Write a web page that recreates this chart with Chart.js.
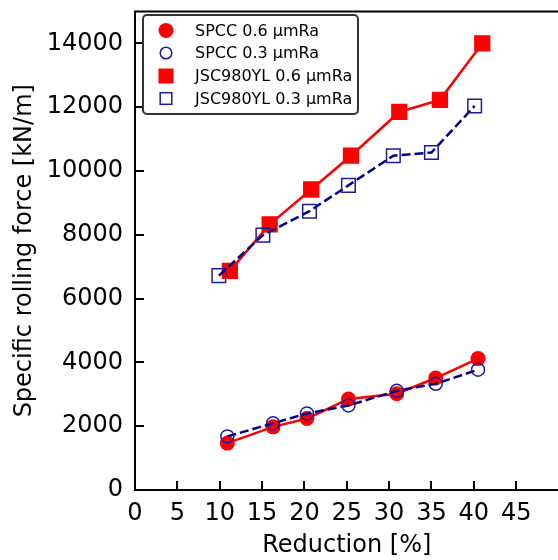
<!DOCTYPE html>
<html>
<head>
<meta charset="utf-8">
<script src="https://cdn.jsdelivr.net/npm/chart.js@4/dist/chart.umd.min.js"></script>
<style>
  html, body { margin: 0; padding: 0; background: #fff; overflow: hidden; }
  #wrap { width: 558px; height: 560px; overflow: hidden; }
</style>
</head>
<body>
<div id="wrap"><canvas id="rollChart" width="570" height="560"></canvas></div>
<script>
// Reduction [%] for each measured pass
const spccReduction = [10.9, 16.3, 20.3, 25.2, 30.9, 35.5, 40.5];
const jsc06Reduction = [11.2, 15.9, 20.8, 25.5, 31.2, 36.0, 41.0];
const jsc03Reduction = [9.9, 15.1, 20.6, 25.2, 30.5, 35.0, 40.1];

// Specific rolling force [kN/m]
const spcc06Force = [1470, 1980, 2240, 2850, 3020, 3510, 4120];
const spcc03Force = [1680, 2090, 2400, 2650, 3110, 3330, 3770];
const jsc06Force = [6870, 8330, 9420, 10480, 11850, 12230, 14000];
const jsc03Force = [6720, 7990, 8740, 9550, 10480, 10580, 12040];

const seriesLabels = ['SPCC 0.6 μmRa', 'SPCC 0.3 μmRa', 'JSC980YL 0.6 μmRa', 'JSC980YL 0.3 μmRa'];
const xTicks = [0, 5, 10, 15, 20, 25, 30, 35, 40, 45];
const yTicks = [0, 2000, 4000, 6000, 8000, 10000, 12000, 14000];

const RED = '#ff0000';
const NAVY = '#000080';
const NAVY_EDGE = '#1c1c99';
const FONT = "'DejaVu Sans', sans-serif";

function pairs(xs, ys) {
    return xs.map((x, i) => ({ x: x, y: ys[i] }));
}

// Ticks pointing inwards + top spine, like the original figure
const insideTicks = {
    id: 'insideTicks',
    afterDraw(chart) {
        const ctx = chart.ctx;
        const area = chart.chartArea;
        const xs = chart.scales.x;
        const ys = chart.scales.y;
        ctx.save();
        ctx.strokeStyle = '#000';
        ctx.lineWidth = 2;
        ctx.beginPath();
        xTicks.forEach(v => {
            const px = Math.round(xs.getPixelForValue(v));
            ctx.moveTo(px, area.bottom);
            ctx.lineTo(px, area.bottom - 9);
        });
        yTicks.forEach(v => {
            const py = Math.round(ys.getPixelForValue(v));
            ctx.moveTo(area.left, py);
            ctx.lineTo(area.left + 9, py);
        });
        ctx.moveTo(area.left - 1, area.top);
        ctx.lineTo(area.right, area.top);
        ctx.stroke();
        ctx.restore();
    }
};

// Framed legend in the upper left corner of the plot
const boxLegend = {
    id: 'boxLegend',
    afterDraw(chart) {
        const ctx = chart.ctx;
        const bx = 143, by = 15, bw = 215, bh = 99;
        ctx.save();
        ctx.fillStyle = '#fff';
        ctx.strokeStyle = '#333';
        ctx.lineWidth = 2;
        ctx.beginPath();
        ctx.roundRect(bx, by, bw, bh, 4);
        ctx.fill();
        ctx.stroke();

        const rows = [30.5, 53, 76, 98.5];
        const mx = 166;
        rows.forEach((ry, i) => {
            ctx.beginPath();
            if (i === 0) {
                ctx.fillStyle = RED;
                ctx.arc(mx, ry, 7.5, 0, Math.PI * 2);
                ctx.fill();
            } else if (i === 1) {
                ctx.strokeStyle = NAVY_EDGE;
                ctx.lineWidth = 1.5;
                ctx.arc(mx, ry, 5.8, 0, Math.PI * 2);
                ctx.stroke();
            } else if (i === 2) {
                ctx.fillStyle = RED;
                ctx.fillRect(mx - 7.5, ry - 7.5, 15, 15);
            } else {
                ctx.strokeStyle = NAVY_EDGE;
                ctx.lineWidth = 1.5;
                ctx.strokeRect(mx - 5.8, ry - 5.8, 11.6, 11.6);
            }
            ctx.fillStyle = '#000';
            ctx.font = '16px ' + FONT;
            ctx.textBaseline = 'middle';
            ctx.textAlign = 'left';
            ctx.fillText(seriesLabels[i], 195, ry + 1);
        });
        ctx.restore();
    }
};

new Chart(document.getElementById('rollChart'), {
    type: 'line',
    data: {
        datasets: [
            {
                label: seriesLabels[0],
                data: pairs(spccReduction, spcc06Force),
                borderColor: RED,
                borderWidth: 2.5,
                pointStyle: 'circle',
                pointRadius: 7.5,
                pointBackgroundColor: RED,
                pointBorderColor: RED,
                pointBorderWidth: 0,
                order: 2
            },
            {
                label: seriesLabels[1],
                data: pairs(spccReduction, spcc03Force),
                borderColor: NAVY,
                borderWidth: 2.5,
                borderDash: [9, 4],
                pointStyle: 'circle',
                pointRadius: 6.5,
                pointBackgroundColor: 'rgba(0,0,0,0)',
                pointBorderColor: NAVY_EDGE,
                pointBorderWidth: 1.5,
                order: 1
            },
            {
                label: seriesLabels[2],
                data: pairs(jsc06Reduction, jsc06Force),
                borderColor: RED,
                borderWidth: 2.5,
                pointStyle: 'rect',
                pointRadius: 11.5,
                pointBackgroundColor: RED,
                pointBorderColor: RED,
                pointBorderWidth: 0,
                order: 2
            },
            {
                label: seriesLabels[3],
                data: pairs(jsc03Reduction, jsc03Force),
                borderColor: NAVY,
                borderWidth: 2.5,
                borderDash: [9, 4],
                pointStyle: 'rect',
                pointRadius: 9.6,
                pointBackgroundColor: 'rgba(0,0,0,0)',
                pointBorderColor: NAVY_EDGE,
                pointBorderWidth: 1.5,
                order: 1
            }
        ]
    },
    options: {
        responsive: false,
        animation: false,
        layout: { padding: { top: 8, left: 0, right: 0, bottom: 0 } },
        plugins: {
            legend: { display: false },
            tooltip: { enabled: false }
        },
        scales: {
            x: {
                type: 'linear',
                min: 0,
                max: 50,
                afterFit: s => { s.height = 70; s.paddingLeft = 0; s.paddingRight = 0; },
                afterBuildTicks: s => { s.ticks = xTicks.map(v => ({ value: v })); },
                grid: { drawOnChartArea: false, drawTicks: false },
                border: { display: true, color: '#000', width: 2 },
                ticks: {
                    color: '#000',
                    padding: 9,
                    maxRotation: 0,
                    autoSkip: false,
                    font: { family: FONT, size: 24 }
                },
                title: {
                    display: true,
                    text: 'Reduction [%]',
                    color: '#000',
                    font: { family: FONT, size: 24 },
                    padding: { top: 0, bottom: 0 }
                }
            },
            y: {
                type: 'linear',
                min: 0,
                max: 15000,
                afterFit: s => { s.width = 135; s.paddingTop = 0; s.paddingBottom = 0; },
                afterBuildTicks: s => { s.ticks = yTicks.map(v => ({ value: v })); },
                grid: { drawOnChartArea: false, drawTicks: false },
                border: { display: true, color: '#000', width: 2 },
                ticks: {
                    color: '#000',
                    padding: 12,
                    autoSkip: false,
                    font: { family: FONT, size: 24 },
                    callback: v => String(v)
                },
                title: {
                    display: true,
                    text: 'Specific rolling force [kN/m]',
                    color: '#000',
                    font: { family: FONT, size: 24 },
                    padding: { top: 10, bottom: 0 }
                }
            }
        }
    },
    plugins: [insideTicks, boxLegend]
});
</script>
</body>
</html>
